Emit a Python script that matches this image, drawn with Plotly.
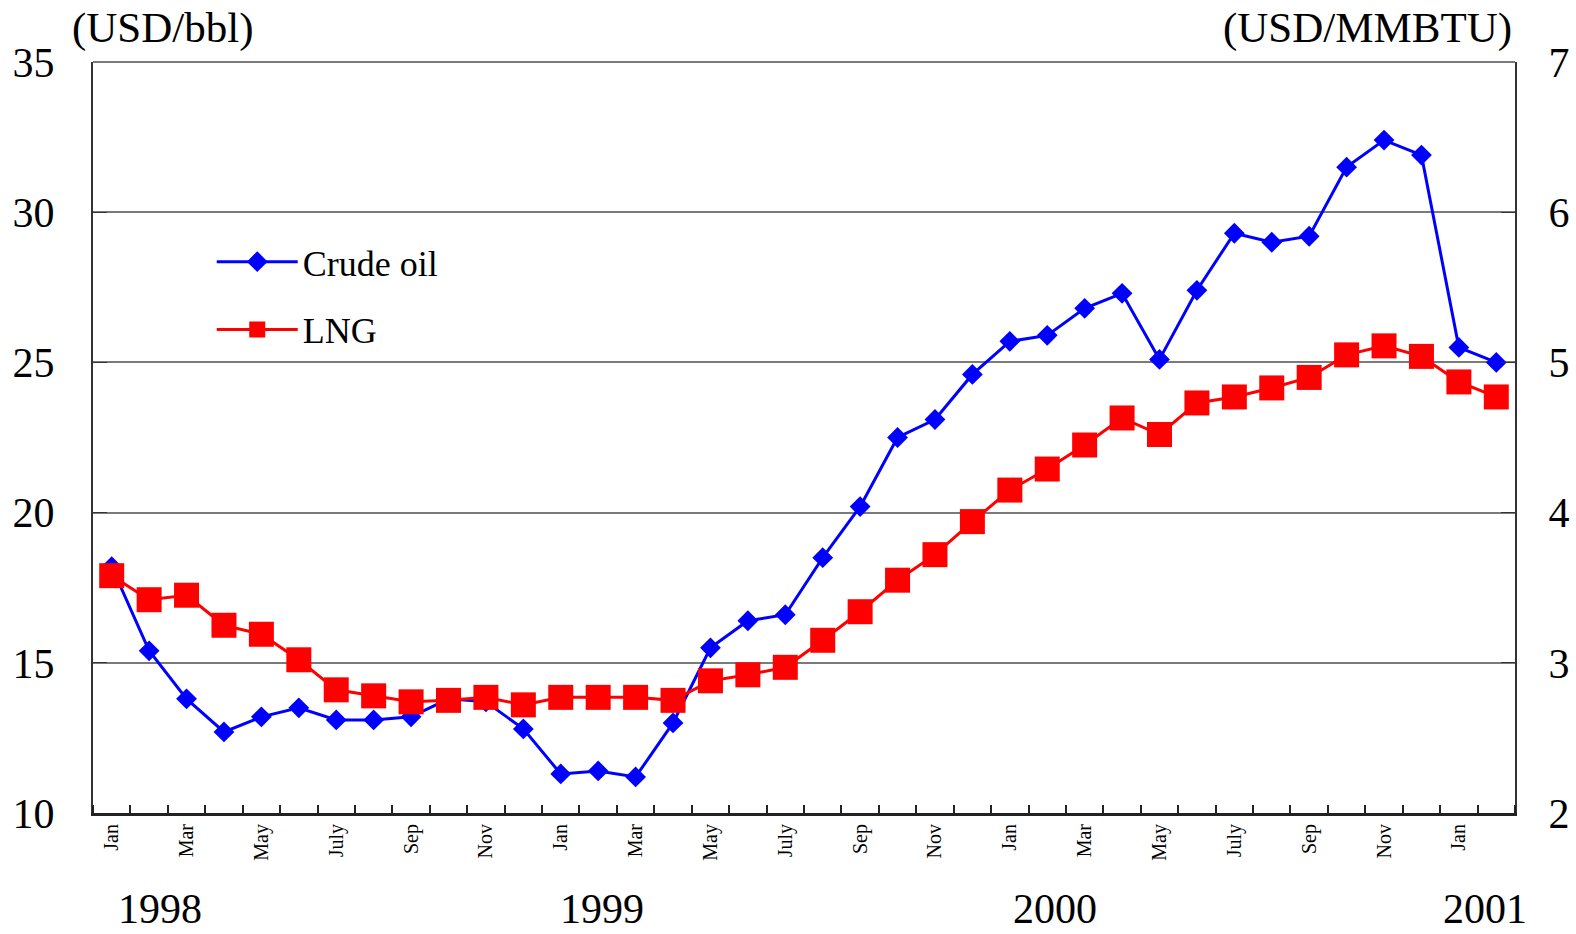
import plotly.graph_objects as go

months = ["Jan", "Feb", "Mar", "Apr", "May", "Jun", "July", "Aug", "Sep", "Oct", "Nov", "Dec"] * 3 + ["Jan", "Feb"]
crude_oil = [18.2, 15.4, 13.8, 12.7, 13.2, 13.5, 13.1, 13.1, 13.2, 13.8, 13.7, 12.8,
             11.3, 11.4, 11.2, 13.0, 15.5, 16.4, 16.6, 18.5, 20.2, 22.5, 23.1, 24.6,
             25.7, 25.9, 26.8, 27.3, 25.1, 27.4, 29.3, 29.0, 29.2, 31.5, 32.4, 31.9,
             25.5, 25.0]
lng = [3.58, 3.42, 3.45, 3.25, 3.19, 3.02, 2.82, 2.78, 2.74, 2.75, 2.77, 2.72,
       2.77, 2.77, 2.77, 2.75, 2.88, 2.92, 2.97, 3.15, 3.34, 3.55, 3.72, 3.94,
       4.15, 4.29, 4.45, 4.63, 4.52, 4.73, 4.77, 4.83, 4.90, 5.05, 5.11, 5.04,
       4.87, 4.77]
years = ["1998", "1999", "2000", "2001"]
year_pos = [1.29, 13.1, 25.2, 36.7]

x = list(range(len(months)))
tick_idx = [i for i in x if i % 2 == 0]
tick_txt = [months[i] for i in tick_idx]

SERIF = "Liberation Serif"

fig = go.Figure()
fig.add_trace(go.Scatter(
    x=x, y=crude_oil, name="Crude oil", mode="lines+markers", legendgroup="a",
    line=dict(color="#0000ff", width=3),
    marker=dict(symbol="diamond", size=16, color="#0000ff"),
    yaxis="y"))
fig.add_trace(go.Scatter(
    x=x, y=lng, name="LNG", mode="lines+markers", legendgroup="b",
    line=dict(color="#ff0000", width=3),
    marker=dict(symbol="square", size=25, color="#ff0000"),
    yaxis="y2"))

fig.update_layout(
    width=1576, height=934,
    margin=dict(l=93, r=61, t=62, b=121),
    paper_bgcolor="white", plot_bgcolor="white",
    font=dict(family=SERIF, color="black"),
    showlegend=True,
    legend=dict(x=0.0835, y=0.774, xanchor="left", yanchor="top",
                font=dict(family=SERIF, size=36, color="black"),
                itemwidth=81, tracegroupgap=18, traceorder="grouped",
                bgcolor="rgba(0,0,0,0)"),
    xaxis=dict(range=[-0.5, len(months) - 0.5], tickvals=tick_idx, ticktext=tick_txt,
               tickangle=-90, ticks="", showgrid=False, zeroline=False, automargin=False,
               showline=True, linecolor="#222", linewidth=3,
               tickfont=dict(family=SERIF, size=20),
               minor=dict(tick0=-0.5, dtick=1, ticks="inside", ticklen=8,
                          tickcolor="#222", tickwidth=1.5, showgrid=False)),
    yaxis=dict(range=[10, 35], dtick=5, tick0=10, showgrid=True, gridcolor="#7a7a7a",
               gridwidth=1.5, zeroline=False, showline=True, linecolor="#333", linewidth=2,
               ticks="inside", ticklen=14, tickcolor="#333", automargin=False,
               tickfont=dict(family=SERIF, size=42), ticklabelstandoff=28),
    yaxis2=dict(range=[2, 7], dtick=1, tick0=2, overlaying="y", side="right",
                showgrid=False, zeroline=False, showline=True, linecolor="#333",
                linewidth=2, ticks="inside", ticklen=14, tickcolor="#333", automargin=False,
                tickfont=dict(family=SERIF, size=42), ticklabelstandoff=23),
    shapes=[dict(type="line", xref="paper", yref="paper", x0=0, x1=1, y0=1, y1=1,
                 line=dict(color="#7a7a7a", width=2))],
)

top_label_y = 1 + (62 - 28) / 751
annotations = [
    dict(text="(USD/bbl)", xref="paper", yref="paper", x=(70 - 93) / 1422, y=top_label_y,
         xanchor="left", yanchor="middle", showarrow=False,
         font=dict(family=SERIF, size=43)),
    dict(text="(USD/MMBTU)", xref="paper", yref="paper", x=(1514 - 93) / 1422, y=top_label_y,
         xanchor="right", yanchor="middle", showarrow=False,
         font=dict(family=SERIF, size=43)),
]
for yr, pos in zip(years, year_pos):
    annotations.append(dict(text=yr, xref="x", yref="paper", x=pos, y=-(909 - 813) / 751,
                            yanchor="middle", showarrow=False,
                            font=dict(family=SERIF, size=42)))
fig.update_layout(annotations=annotations)

fig.write_html("out.html", config={"displayModeBar": False},
               post_script="document.body.style.margin='0';document.body.style.overflow='hidden';")
